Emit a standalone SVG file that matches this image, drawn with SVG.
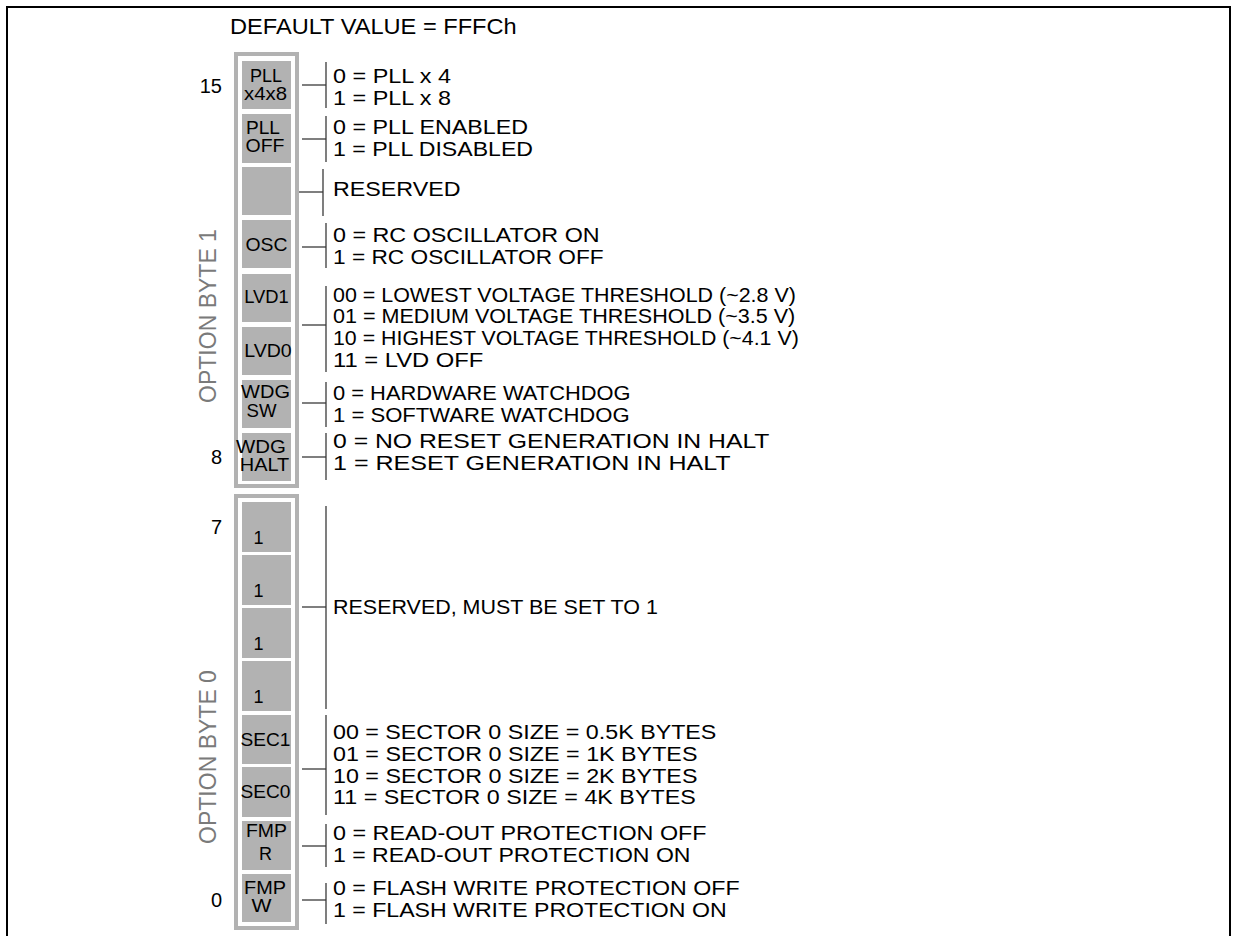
<svg xmlns="http://www.w3.org/2000/svg" width="1237" height="936" viewBox="0 0 1237 936">
<style>
text{font-family:"Liberation Sans",Arial,sans-serif;fill:#000}
.t{font-size:19.5px}
.c{font-size:18px;text-anchor:middle}
.n{font-size:20px;text-anchor:end}
.r{font-size:23px;fill:#7a7a7a;text-anchor:middle}
.box{fill:none;stroke:#b2b2b2;stroke-width:4}
.cell{fill:#b2b2b2}
.conn line{stroke:#3a3a3a;stroke-width:1.3}
</style>
<rect x="7" y="7" width="1223" height="1000" fill="#fff" stroke="#000" stroke-width="2"/>
<text transform="translate(230,34) scale(1.0985,1)" style="font-size:21.5px">DEFAULT VALUE = FFFCh</text>

<g id="byte1">
<rect class="box" x="236" y="54" width="61" height="432"/>
<text class="r" transform="translate(216,316) rotate(-90)">OPTION BYTE 1</text>
<text class="n" x="222" y="93">15</text>
<text class="n" x="222" y="464">8</text>
</g>
<g id="byte0">
<rect class="box" x="236" y="496" width="61" height="432"/>
<text class="r" transform="translate(216,757) rotate(-90)">OPTION BYTE 0</text>
<text class="n" x="222" y="534">7</text>
<text class="n" x="222" y="907">0</text>
</g>

<g id="bit15"><rect class="cell" x="242" y="61" width="49" height="48"/>
<text class="c" x="266" y="82">PLL</text>
<text class="c" transform="translate(265.5,100) scale(1.131,1)">x4x8</text></g>
<g id="bit14"><rect class="cell" x="242" y="114" width="49" height="49"/>
<text class="c" transform="translate(263,134) scale(1.061,1)">PLL</text>
<text class="c" transform="translate(265,152) scale(1.083,1)">OFF</text></g>
<g id="bit13"><rect class="cell" x="242" y="167" width="49" height="48"/></g>
<g id="bit12"><rect class="cell" x="242" y="220" width="49" height="48"/>
<text class="c" transform="translate(266.5,251) scale(1.077,1)">OSC</text></g>
<g id="bit11"><rect class="cell" x="242" y="274" width="49" height="48"/>
<text class="c" transform="translate(266.5,303) scale(1.022,1)">LVD1</text></g>
<g id="bit10"><rect class="cell" x="242" y="327" width="49" height="48"/>
<text class="c" transform="translate(268,357) scale(1.088,1)">LVD0</text></g>
<g id="bit9"><rect class="cell" x="242" y="380" width="49" height="48"/>
<text class="c" transform="translate(265.5,398) scale(1.113,1)">WDG</text>
<text class="c" transform="translate(261.5,417) scale(1.034,1)">SW</text></g>
<g id="bit8"><rect class="cell" x="242" y="433" width="49" height="48"/>
<text class="c" transform="translate(261,453) scale(1.136,1)">WDG</text>
<text class="c" transform="translate(264.5,471) scale(1.109,1)">HALT</text></g>

<g id="bit7"><rect class="cell" x="242" y="502" width="49" height="50"/><text class="c" x="258.5" y="544">1</text></g>
<g id="bit6"><rect class="cell" x="242" y="555" width="49" height="50"/><text class="c" x="258.5" y="597">1</text></g>
<g id="bit5"><rect class="cell" x="242" y="608" width="49" height="50"/><text class="c" x="258.5" y="650">1</text></g>
<g id="bit4"><rect class="cell" x="242" y="661" width="49" height="50"/><text class="c" x="258.5" y="703">1</text></g>
<g id="bit3"><rect class="cell" x="242" y="715" width="49" height="49"/>
<text class="c" transform="translate(265.5,746) scale(1.063,1)">SEC1</text></g>
<g id="bit2"><rect class="cell" x="242" y="767" width="49" height="50"/>
<text class="c" transform="translate(265.5,798) scale(1.063,1)">SEC0</text></g>
<g id="bit1"><rect class="cell" x="242" y="821" width="49" height="49"/>
<text class="c" transform="translate(266.5,837) scale(1.079,1)">FMP</text>
<text class="c" x="265.5" y="860">R</text></g>
<g id="bit0"><rect class="cell" x="242" y="874" width="49" height="48"/>
<text class="c" transform="translate(265,894) scale(1.105,1)">FMP</text>
<text class="c" transform="translate(261.5,912) scale(1.177,1)">W</text></g>

<g id="connectors" class="conn">
<line x1="302" y1="85" x2="326" y2="85"/><line x1="326" y1="62" x2="326" y2="108"/>
<line x1="302" y1="139" x2="326" y2="139"/><line x1="326" y1="116" x2="326" y2="162"/>
<line x1="299" y1="192" x2="323" y2="192"/><line x1="323" y1="169" x2="323" y2="216"/>
<line x1="302" y1="247" x2="326" y2="247"/><line x1="326" y1="223" x2="326" y2="268"/>
<line x1="302" y1="325" x2="326" y2="325"/><line x1="326" y1="286" x2="326" y2="372"/>
<line x1="302" y1="403" x2="326" y2="403"/><line x1="326" y1="382" x2="326" y2="427"/>
<line x1="302" y1="457" x2="326" y2="457"/><line x1="326" y1="433" x2="326" y2="480"/>
<line x1="302" y1="607" x2="326" y2="607"/><line x1="326" y1="506" x2="326" y2="709"/>
<line x1="302" y1="769" x2="326" y2="769"/><line x1="326" y1="715" x2="326" y2="815"/>
<line x1="302" y1="846" x2="326" y2="846"/><line x1="326" y1="824" x2="326" y2="867"/>
<line x1="302" y1="900" x2="326" y2="900"/><line x1="326" y1="883" x2="326" y2="924"/>
</g>

<g id="descriptions">
<text class="t" transform="translate(333,83) scale(1.1996,1)">0 = PLL x 4</text>
<text class="t" transform="translate(333,105) scale(1.1996,1)">1 = PLL x 8</text>
<text class="t" transform="translate(333,134) scale(1.1936,1)">0 = PLL ENABLED</text>
<text class="t" transform="translate(333,156) scale(1.1849,1)">1 = PLL DISABLED</text>
<text class="t" transform="translate(333,196) scale(1.1933,1)">RESERVED</text>
<text class="t" transform="translate(333,242) scale(1.1963,1)">0 = RC OSCILLATOR ON</text>
<text class="t" transform="translate(333,264) scale(1.1637,1)">1 = RC OSCILLATOR OFF</text>
<text class="t" transform="translate(333,302) scale(1.0993,1)">00 = LOWEST VOLTAGE THRESHOLD (~2.8 V)</text>
<text class="t" transform="translate(333,323) scale(1.1055,1)">01 = MEDIUM VOLTAGE THRESHOLD (~3.5 V)</text>
<text class="t" transform="translate(333,345) scale(1.0952,1)">10 = HIGHEST VOLTAGE THRESHOLD (~4.1 V)</text>
<text class="t" transform="translate(333,367) scale(1.2197,1)">11 = LVD OFF</text>
<text class="t" transform="translate(333,400) scale(1.1225,1)">0 = HARDWARE WATCHDOG</text>
<text class="t" transform="translate(333,422) scale(1.1325,1)">1 = SOFTWARE WATCHDOG</text>
<text class="t" transform="translate(333,448) scale(1.2698,1)">0 = NO RESET GENERATION IN HALT</text>
<text class="t" transform="translate(333,470) scale(1.2859,1)">1 = RESET GENERATION IN HALT</text>
<text class="t" transform="translate(333,614) scale(1.1013,1)">RESERVED, MUST BE SET TO 1</text>
<text class="t" transform="translate(333,739) scale(1.1929,1)">00 = SECTOR 0 SIZE = 0.5K BYTES</text>
<text class="t" transform="translate(333,761) scale(1.1942,1)">01 = SECTOR 0 SIZE = 1K BYTES</text>
<text class="t" transform="translate(333,783) scale(1.1942,1)">10 = SECTOR 0 SIZE = 2K BYTES</text>
<text class="t" transform="translate(333,804) scale(1.1942,1)">11 = SECTOR 0 SIZE = 4K BYTES</text>
<text class="t" transform="translate(333,840) scale(1.1965,1)">0 = READ-OUT PROTECTION OFF</text>
<text class="t" transform="translate(333,862) scale(1.1822,1)">1 = READ-OUT PROTECTION ON</text>
<text class="t" transform="translate(333,895) scale(1.1906,1)">0 = FLASH WRITE PROTECTION OFF</text>
<text class="t" transform="translate(333,917) scale(1.1864,1)">1 = FLASH WRITE PROTECTION ON</text>
</g>
</svg>
